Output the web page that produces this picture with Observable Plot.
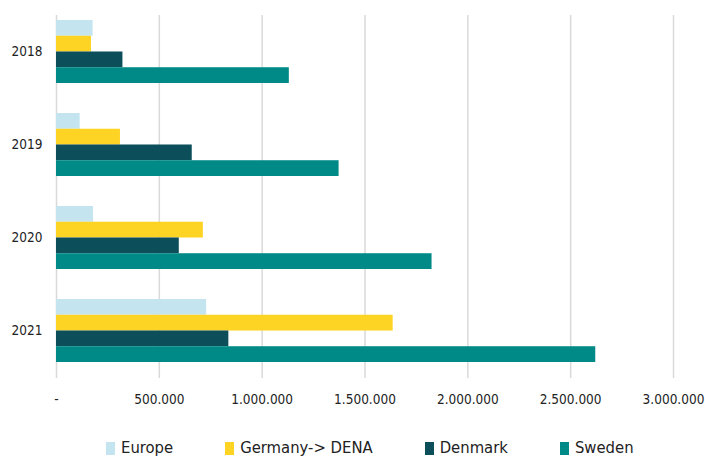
<!DOCTYPE html>
<html>
<head>
<meta charset="utf-8">
<script src="https://cdn.jsdelivr.net/npm/d3@7"></script>
<script src="https://cdn.jsdelivr.net/npm/@observablehq/plot@0.6"></script>
<style>
  body { margin: 0; background: #fff; font-family: "Liberation Sans Narrow", "DejaVu Sans Condensed", sans-serif; }
  #legend { display: flex; align-items: center; padding-left: 106px; margin-top: 18px; font-size: 16.5px; color: #222; line-height: 20px; white-space: nowrap; }
  .item { display: flex; align-items: center; margin-right: 52px; }
  .sw { width: 9px; height: 13px; margin-right: 6px; }
</style>
</head>
<body>
<div id="chart"></div>
<div id="legend"></div>
<script>
const years = ["2018", "2019", "2020", "2021"];
const seriesNames = ["Europe", "Germany-> DENA", "Denmark", "Sweden"];
const seriesColors = ["#c4e5f0", "#fed424", "#0c4f5b", "#008a87"];
const europe  = [178000, 115000, 180000, 730000];
const germany = [170000, 311000, 714000, 1637000];
const denmark = [323000, 660000, 597000, 838000];
const sweden  = [1132000, 1374000, 1826000, 2622000];
const xTicks = [0, 500000, 1000000, 1500000, 2000000, 2500000, 3000000];

const values = [europe, germany, denmark, sweden];

const W = 705, Hsvg = 420, mTop = 15, mBottom = 42, mLeft = 56, mRight = 32;
const pInner = 0.325, pOuter = 0.108;
const frameH = Hsvg - mTop - mBottom;
const step = frameH / (years.length - pInner + 2 * pOuter);
const band = step * (1 - pInner);
const slot = band / seriesNames.length;

const loc = d3.formatLocale({decimal: ",", thousands: ".", grouping: [3], currency: ["", ""]});
const fmt = loc.format(",d");

const marks = [
  Plot.gridX(xTicks, {stroke: "#d9d9d9", strokeOpacity: 1, strokeWidth: 1.5})
];
seriesNames.forEach((name, i) => {
  const rows = years.map((y, j) => ({year: y, value: values[i][j], series: name}));
  marks.push(Plot.barX(rows, {
    x: "value", y: "year", fill: seriesColors[i],
    insetTop: i * slot, insetBottom: (seriesNames.length - 1 - i) * slot
  }));
});

const plot = Plot.plot({
  width: W, height: Hsvg,
  marginTop: mTop, marginBottom: mBottom, marginLeft: mLeft, marginRight: mRight,
  style: {fontFamily: '"Liberation Sans Narrow", "DejaVu Sans Condensed", sans-serif', fontSize: "13.5px", color: "#222", background: "#fff"},
  x: {domain: [0, 3000000], ticks: xTicks, tickFormat: d => d === 0 ? "-" : fmt(d), tickSize: 0, tickPadding: 16, label: null},
  y: {domain: years, paddingInner: pInner, paddingOuter: pOuter, align: 0.25, tickSize: 0, tickPadding: 14, label: null},
  marks
});
document.getElementById("chart").appendChild(plot);

const leg = document.getElementById("legend");
seriesNames.forEach((n, i) => {
  const it = document.createElement("div");
  it.className = "item";
  const sw = document.createElement("span");
  sw.className = "sw";
  sw.style.background = seriesColors[i];
  const t = document.createElement("span");
  t.textContent = n;
  it.appendChild(sw); it.appendChild(t);
  leg.appendChild(it);
});
</script>
</body>
</html>
